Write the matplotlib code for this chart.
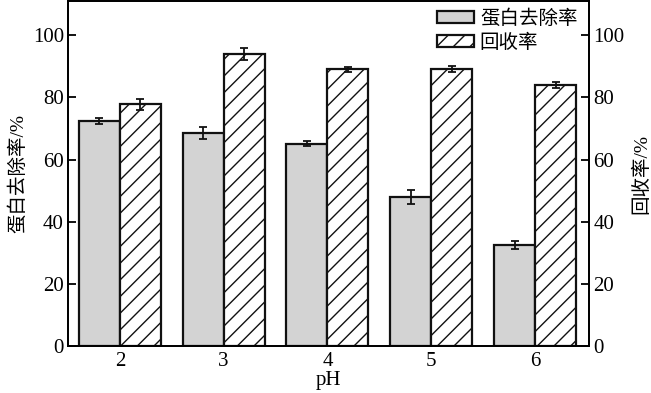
import matplotlib
matplotlib.use("Agg")
import matplotlib.pyplot as plt
import numpy as np

plt.rcParams['font.family'] = ['Liberation Serif', 'Noto Sans CJK SC']
plt.rcParams['hatch.linewidth'] = 1.0

ph = [2, 3, 4, 5, 6]
removal = [72.5, 68.5, 65.0, 48.0, 32.5]
removal_err = [1.0, 2.0, 0.8, 2.2, 1.3]
recovery = [77.8, 94.0, 89.0, 89.0, 84.0]
recovery_err = [1.8, 2.0, 0.7, 1.0, 1.0]

fig = plt.figure(figsize=(6.51, 3.93), dpi=100)
ax = fig.add_axes([68/651, 1 - 346/393, (589-68)/651, 345/393])
x = np.array(ph, dtype=float)
w = 0.395
ax.bar(x - w/2, removal, w, color='#d3d3d3', edgecolor='#111111', linewidth=1.6,
       yerr=removal_err, capsize=3, error_kw=dict(elinewidth=1.3, capthick=1.3, ecolor='#111111'),
       label='蛋白去除率')
ax.bar(x + w/2, recovery, w, color='white', edgecolor='#111111', linewidth=1.6, hatch='//',
       yerr=recovery_err, capsize=3, error_kw=dict(elinewidth=1.3, capthick=1.3, ecolor='#111111'),
       label='回收率')
ax.set_xlim(1.5, 6.52)
ax.set_ylim(0, 111)
ax.set_xticks(ph)
ax.set_xticklabels([str(p) for p in ph])
ax.set_yticks([0, 20, 40, 60, 80, 100])
ax.tick_params(axis='x', length=0, labelsize=15, pad=4)
ax.tick_params(axis='y', direction='in', length=6, width=1.3, labelsize=15, pad=3)
ax.set_xlabel('pH', fontsize=15, labelpad=0)
ax.set_ylabel('蛋白去除率/%', fontsize=14, labelpad=4)
for s in ax.spines.values():
    s.set_linewidth(1.3)

ax2 = ax.twinx()
ax2.set_ylim(0, 111)
ax2.set_yticks([0, 20, 40, 60, 80, 100])
ax2.tick_params(axis='y', direction='in', length=6, width=1.3, labelsize=15, pad=3)
ax2.set_ylabel('回收率/%', fontsize=14, labelpad=6)
for s in ax2.spines.values():
    s.set_linewidth(1.3)

leg = ax.legend(loc='upper right', bbox_to_anchor=(1.0, 1.01), frameon=False, fontsize=14,
                handlelength=1.9, handleheight=0.6, handletextpad=0.3, labelspacing=0.3,
                borderaxespad=0.2)

fig.savefig('out.png', dpi=100)
